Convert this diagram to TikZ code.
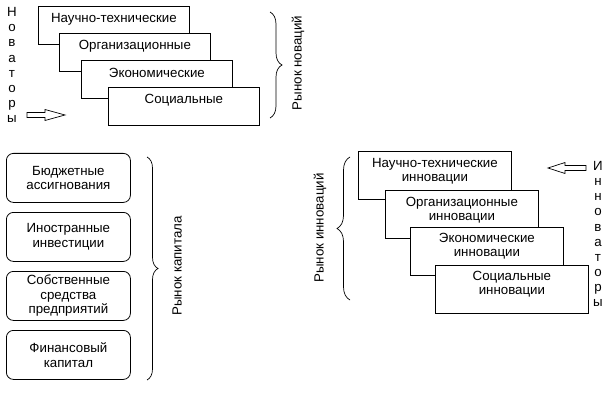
\documentclass[tikz,border=0pt]{standalone}
\usepackage{fontspec}
\setmainfont{Liberation Sans}
\usetikzlibrary{decorations.pathreplacing}
\begin{document}
\begin{tikzpicture}[x=1pt,y=-1pt,
  every node/.style={font=\fontsize{13.3}{14.5}\selectfont},
  sqbox/.style={draw,fill=white,line width=0.8pt,minimum width=151pt,minimum height=38pt,anchor=north west,inner sep=0pt},
  sqbox2/.style={draw,fill=white,line width=0.8pt,minimum width=153pt,minimum height=48pt,anchor=north west,inner sep=0pt},
  rbox/.style={draw,line width=0.8pt,rounded corners=7pt,minimum width=124pt,minimum height=49pt,anchor=north west,align=center,inner sep=0pt},
  txt/.style={inner sep=0pt,align=center},
  brc/.style={decorate,line width=0.7pt},
  vtxt/.style={inner sep=0pt,align=center,font=\fontsize{13.3}{15.1}\selectfont},
  barrow/.style={draw,line width=0.7pt,fill=white}]
\useasboundingbox (0,0) rectangle (616,401);

% top group
\node[sqbox] (t1) at (38,6) {};
\node[txt] (t1t) at ([yshift=-13pt]t1.north) {Научно-технические};
\node[sqbox] (t2) at (59,33) {};
\node[txt] (t2t) at ([yshift=-13pt]t2.north) {Организационные};
\node[sqbox] (t3) at (81,60) {};
\node[txt] (t3t) at ([yshift=-13pt]t3.north) {Экономические};
\node[sqbox] (t4) at (108,87) {};
\node[txt] (t4t) at ([yshift=-13pt]t4.north) {Социальные};

\node[vtxt] (nov) at (12,65) {Н\\о\\в\\а\\т\\о\\р\\ы};
\draw[barrow] (27,112.5) -- (45,112.5) -- (45,109.5) -- (65,115) -- (45,120.5) -- (45,117.5) -- (27,117.5) -- cycle;

\draw[brc,decoration={brace,amplitude=12pt}] (270,12) -- (270,118);
\node[txt,rotate=90] (rn) at (298,63) {Рынок новаций};

% left group
\node[rbox] (l1) at (6,153) {Бюджетные\\ассигнования};
\node[rbox] (l2) at (6,212) {Иностранные\\инвестиции};
\node[rbox] (l3) at (6,271) {Собственные\\средства\\предприятий};
\node[rbox] (l4) at (6,330) {Финансовый\\капитал};

\draw[brc,decoration={brace,amplitude=11pt}] (147,157) -- (147,380);
\node[txt,rotate=90] (rk) at (177,266) {Рынок капитала};

% right group
\node[sqbox2] (r1) at (358,151) {};
\node[txt] (r1t) at ([yshift=-20pt]r1.north) {Научно-технические\\инновации};
\node[sqbox2] (r2) at (385,190) {};
\node[txt] (r2t) at ([yshift=-20pt]r2.north) {Организационные\\инновации};
\node[sqbox2] (r3) at (410,227) {};
\node[txt] (r3t) at ([yshift=-19pt]r3.north) {Экономические\\инновации};
\node[sqbox2] (r4) at (435,265) {};
\node[txt] (r4t) at ([yshift=-19pt]r4.north) {Социальные\\инновации};

\draw[brc,decoration={brace,amplitude=13pt}] (350,300) -- (350,157);
\node[txt,rotate=90] (ri) at (320,228) {Рынок инноваций};

\node[vtxt] (inn) at (598,234) {И\\н\\н\\о\\в\\а\\т\\о\\р\\ы};
\draw[barrow] (586,165.5) -- (565,165.5) -- (565,162.5) -- (548,168) -- (565,173.5) -- (565,170.5) -- (586,170.5) -- cycle;
\end{tikzpicture}
\end{document}
